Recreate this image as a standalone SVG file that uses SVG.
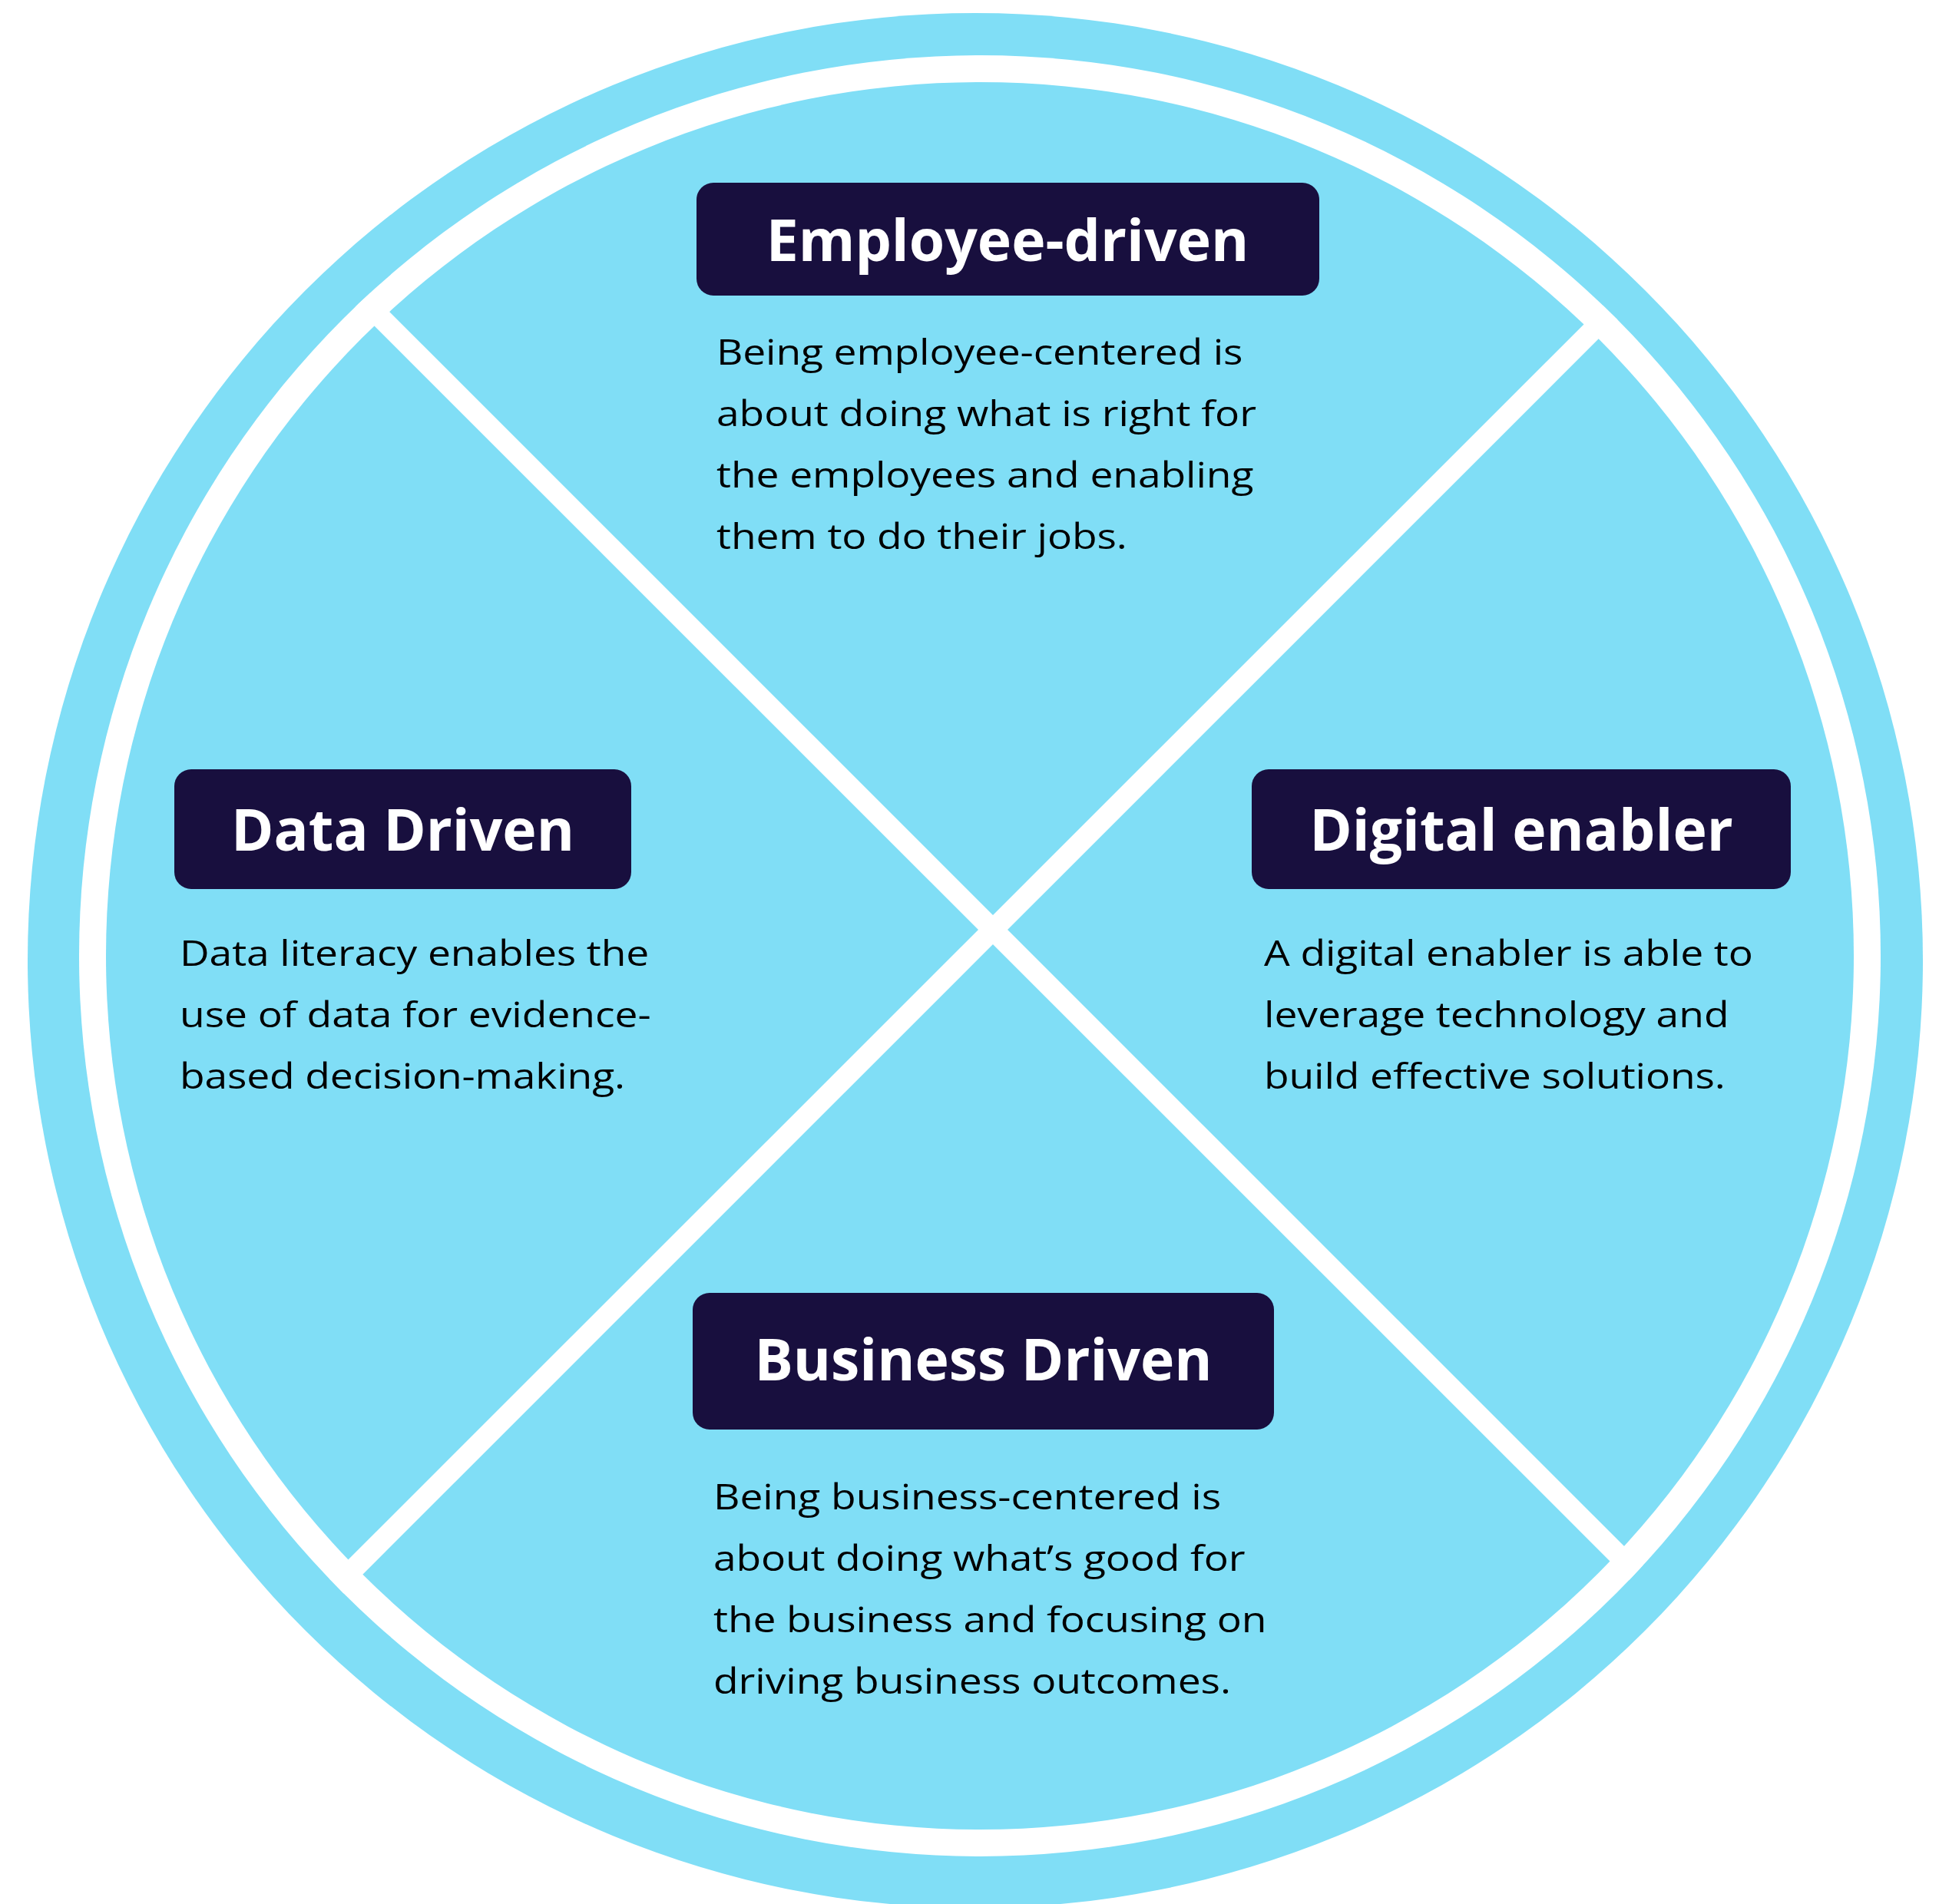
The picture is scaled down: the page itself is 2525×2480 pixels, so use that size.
<svg xmlns="http://www.w3.org/2000/svg" width="2525" height="2480" viewBox="0 0 2525 2480">
  <style>
    .blue { fill: #80DEF6; }
    .box { fill: #180F3E; }
    .title { font-family: "Open Sans", "Liberation Sans", sans-serif; font-weight: 700; font-size: 75px; fill: #FFFFFF; text-anchor: middle; }
    .body { font-family: "Open Sans", "Liberation Sans", sans-serif; font-weight: 400; font-size: 46px; fill: #000000; }
    .stripe { stroke: #FFFFFF; stroke-width: 27; fill: none; }
  </style>
  <defs>
    <clipPath id="ringClip">
      <circle cx="1276" cy="1245" r="1173"/>
    </clipPath>
  </defs>
  <rect x="0" y="0" width="2525" height="2480" fill="#FFFFFF"/>
  <g id="wheel">
    <circle class="blue" cx="1270" cy="1251" r="1234"/>
    <circle cx="1276" cy="1245" r="1173" fill="#FFFFFF"/>
    <circle class="blue" cx="1276" cy="1245" r="1138"/>
  </g>
  <g id="connectors" clip-path="url(#ringClip)">
    <line class="stripe" x1="0" y1="-82" x2="2525" y2="2443"/>
    <line class="stripe" x1="0" y1="2504" x2="2525" y2="-21"/>
  </g>
  <g id="employee-driven">
    <rect class="box" x="907" y="238" width="811" height="147" rx="22"/>
    <text class="title" x="1312" y="340">Employee-driven</text>
    <g transform="translate(933 0) scale(1.16 1)">
      <text class="body" x="0" y="475" textLength="591">Being employee-centered is</text>
      <text class="body" x="0" y="555" textLength="606">about doing what is right for</text>
      <text class="body" x="0" y="635" textLength="603">the employees and enabling</text>
      <text class="body" x="0" y="715" textLength="461">them to do their jobs.</text>
    </g>
  </g>
  <g id="data-driven">
    <rect class="box" x="227" y="1002" width="595" height="156" rx="22"/>
    <text class="title" x="524.5" y="1108">Data Driven</text>
    <g transform="translate(234 0) scale(1.16 1)">
      <text class="body" x="0" y="1258" textLength="527">Data literacy enables the</text>
      <text class="body" x="0" y="1338" textLength="529">use of data for evidence-</text>
      <text class="body" x="0" y="1418" textLength="500">based decision-making.</text>
    </g>
  </g>
  <g id="digital-enabler">
    <rect class="box" x="1630" y="1002" width="702" height="156" rx="22"/>
    <text class="title" x="1981" y="1108">Digital enabler</text>
    <g transform="translate(1646 0) scale(1.16 1)">
      <text class="body" x="0" y="1258" textLength="549">A digital enabler is able to</text>
      <text class="body" x="0" y="1338" textLength="522">leverage technology and</text>
      <text class="body" x="0" y="1418" textLength="518">build effective solutions.</text>
    </g>
  </g>
  <g id="business-driven">
    <rect class="box" x="902" y="1684" width="757" height="178" rx="22"/>
    <text class="title" x="1280.5" y="1798">Business Driven</text>
    <g transform="translate(929 0) scale(1.16 1)">
      <text class="body" x="0" y="1966" textLength="570">Being business-centered is</text>
      <text class="body" x="0" y="2046" textLength="597">about doing what’s good for</text>
      <text class="body" x="0" y="2126" textLength="621">the business and focusing on</text>
      <text class="body" x="0" y="2206" textLength="581">driving business outcomes.</text>
    </g>
  </g>
</svg>
